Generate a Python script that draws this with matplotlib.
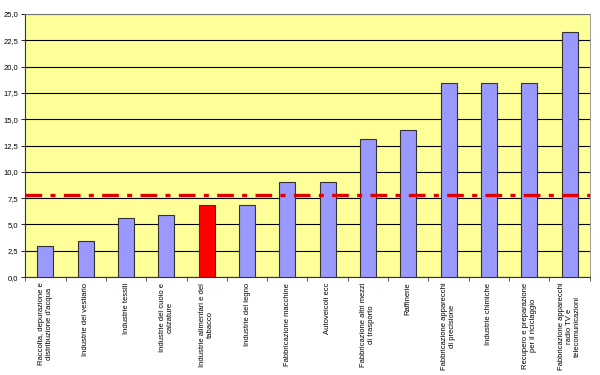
import numpy as np
import matplotlib
matplotlib.use("Agg")
from matplotlib import pyplot as plt
from matplotlib.ticker import FuncFormatter, FixedLocator

# ======== Data ========
categories = [
    "Raccolta, depurazione e\ndistribuzione d'acqua",
    "Industrie del vestiario",
    "Industrie tessili",
    "Industrie del cuoio e\ncalzature",
    "Industrie alimentari e del\ntabacco",
    "Industrie del legno",
    "Fabbricazione macchine",
    "Autoveicoli ecc",
    "Fabbricazione altri mezzi\ndi trasporto",
    "Raffinerie",
    "Fabbricazione apparecchi\ndi precisione",
    "Industrie chimiche",
    "Recupero e preparazione\nper il riciclaggio",
    "Fabbricazione apparecchi\nradio TV e\ntelecomunicazioni",
]
values = [3.0, 3.4, 5.6, 5.9, 6.85, 6.85, 9.0, 9.0, 13.1, 14.0, 18.4, 18.4, 18.4, 23.3]
highlight = "Industrie alimentari e del\ntabacco"
average = 7.8

# ======== Plot ========
plt.rcParams['font.family'] = ['Liberation Sans', 'DejaVu Sans']
fig = plt.figure(figsize=(6, 3.75), dpi=100)
ax = fig.add_axes([0.042, 0.261, 0.941, 0.702])
ax.set_facecolor('#FFFF99')

x = np.arange(len(categories))
colors = ['#FF0000' if c == highlight else '#9999FF' for c in categories]
ax.bar(x, values, width=0.4, color=colors, edgecolor='#333333', linewidth=0.8, zorder=3)

ax.axhline(average, color='#E00000', linewidth=2.4, dashes=(5, 2.5, 1.5, 2.5), zorder=4)

ax.set_xlim(-0.5, len(categories) - 0.5)
ax.set_ylim(0, 25)
ax.set_yticks(np.arange(0, 25.1, 2.5))
ax.yaxis.set_major_formatter(FuncFormatter(lambda v, p: f"{v:.1f}".replace('.', ',')))
ax.grid(axis='y', color='black', linewidth=0.8, zorder=1)
ax.tick_params(axis='y', labelsize=5.5, length=3, width=0.6, pad=2)

ax.set_xticks(x)
ax.set_xticklabels(categories, rotation=90, fontsize=5.5, va='top', ha='center',
                   multialignment='center')
ax.tick_params(axis='x', length=0, pad=4)
ax.xaxis.set_minor_locator(FixedLocator(np.arange(-0.5, len(categories), 1)))
ax.tick_params(axis='x', which='minor', length=3, width=0.6, color='#444444')

for s in ['top', 'right']:
    ax.spines[s].set_color('#888888')
    ax.spines[s].set_linewidth(0.6)
for s in ['left', 'bottom']:
    ax.spines[s].set_color('#333333')
    ax.spines[s].set_linewidth(0.8)

fig.savefig("out.png", dpi=100)
